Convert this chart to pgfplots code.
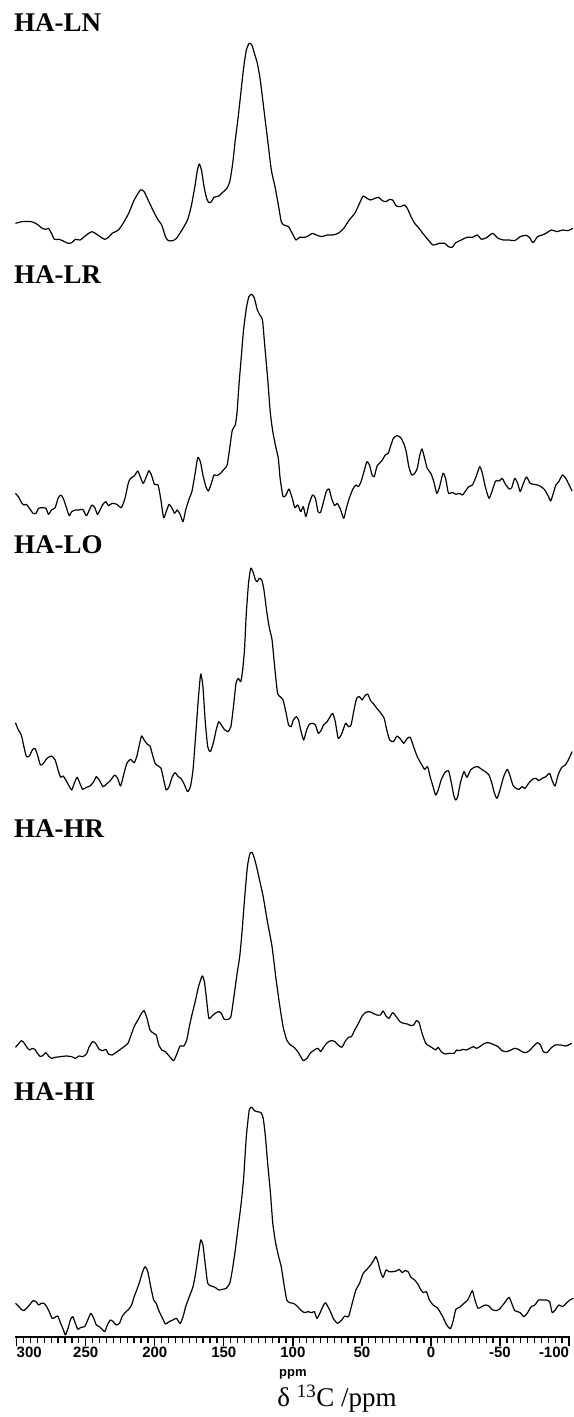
\documentclass[border=0pt]{standalone}
\usepackage{fontspec}
\setmainfont{Liberation Serif}
\setsansfont{Liberation Sans}
\usepackage{pgfplots}
\pgfplotsset{compat=1.18}
\begin{document}
\begin{tikzpicture}
\begin{axis}[
  x=1.3808pt, y=1pt,
  x dir=reverse,
  xmin=-100.5, xmax=301,
  ymin=80, ymax=1417,
  clip=false,
  axis x line=bottom, axis y line=none,
  x axis line style={-, line width=2pt},
  xtick={-100,-50,0,50,100,150,200,250,300},
  xticklabels={\makebox[0pt][r]{-100},-50,0,50,100,150,200,250,\makebox[0pt][l]{300}},
  minor x tick num=9,
  tick align=outside,
  major tick length=9pt, minor tick length=6pt,
  every tick/.style={black, line width=1.3pt},
  xticklabel style={font=\fontsize{15}{15}\selectfont\bfseries\sffamily, inner sep=1pt},
  x filter/.expression={312.1-0.26625*x},
  every axis plot/.append style={black, line width=1.2pt, line join=round, mark=none, smooth, tension=0.35},
]
% HA-LN
\addplot[y filter/.expression={1417-y/3}] coordinates {
(42,670)(60,665)(85,665)(100,672)(115,685)(125,688)(132,685)(140,700)(148,718)(160,718)(170,722)(185,730)(195,728)(205,718)(218,720)(235,705)(250,695)(262,702)(275,712)(285,718)(295,712)(305,700)(322,690)(335,670)(350,640)(365,600)(382,570)(392,575)(405,605)(418,635)(430,660)(440,675)(450,710)(458,722)(470,722)(480,715)(495,690)(510,660)(520,620)(530,560)(537,510)(542,492)(548,510)(555,560)(562,595)(568,608)(575,605)(582,592)(595,588)(605,578)(617,565)(625,545)(633,490)(640,420)(648,350)(655,280)(662,210)(670,150)(678,130)(685,135)(692,160)(700,190)(708,240)(718,330)(728,420)(738,510)(748,560)(758,620)(765,665)(772,675)(785,680)(795,700)(805,720)(815,712)(828,712)(838,708)(850,700)(860,705)(875,710)(890,705)(905,705)(920,700)(935,685)(950,660)(965,640)(978,610)(988,588)(998,595)(1008,600)(1020,595)(1030,592)(1040,602)(1050,605)(1060,598)(1068,600)(1078,618)(1090,620)(1100,615)(1108,625)(1118,650)(1128,670)(1140,685)(1150,700)(1165,720)(1178,735)(1195,730)(1210,730)(1220,740)(1230,742)(1240,728)(1255,720)(1270,712)(1285,712)(1298,705)(1310,718)(1325,712)(1340,700)(1355,715)(1370,720)(1385,720)(1400,722)(1415,710)(1430,706)(1440,712)(1450,728)(1462,710)(1475,705)(1485,700)(1500,690)(1515,695)(1530,690)(1545,692)(1558,685)
};
% HA-LR
\addplot[y filter/.expression={1417-y/3-265}] coordinates {
(42,685)(50,695)(58,712)(65,720)(72,718)(80,730)(90,745)(98,745)(105,730)(115,728)(125,730)(132,748)(140,735)(150,728)(158,700)(165,690)(172,700)(180,725)(188,752)(195,740)(205,735)(215,735)(225,733)(235,752)(243,735)(250,720)(258,728)(265,748)(272,735)(280,718)(288,710)(295,722)(305,715)(318,718)(330,728)(340,700)(350,650)(358,638)(366,632)(375,618)(383,640)(390,655)(398,635)(405,617)(412,630)(420,658)(430,660)(437,700)(445,758)(452,740)(460,718)(468,730)(475,745)(482,735)(490,748)(498,770)(505,735)(515,700)(522,680)(530,630)(538,578)(545,590)(552,630)(560,665)(567,678)(575,655)(582,630)(590,632)(600,625)(610,612)(618,600)(626,540)(632,495)(640,480)(645,440)(650,360)(656,280)(662,200)(670,130)(677,95)(685,88)(692,100)(700,135)(708,152)(714,165)(720,240)(728,340)(735,440)(742,500)(750,545)(757,580)(762,640)(770,695)(778,690)(786,672)(795,700)(802,728)(810,720)(818,740)(825,725)(832,755)(840,720)(850,690)(858,700)(865,740)(872,742)(880,710)(888,678)(895,672)(902,700)(910,722)(917,715)(925,730)(935,760)(942,730)(950,700)(960,672)(968,660)(975,665)(982,650)(990,620)(998,590)(1005,600)(1012,630)(1018,635)(1025,605)(1032,595)(1040,585)(1048,570)(1056,565)(1062,545)(1070,520)(1080,512)(1090,518)(1098,535)(1105,560)(1112,605)(1120,630)(1128,625)(1135,610)(1142,570)(1148,552)(1155,580)(1162,610)(1172,625)(1180,650)(1188,685)(1195,668)(1205,625)(1212,640)(1220,685)(1230,682)(1240,688)(1250,685)(1258,690)(1265,680)(1275,665)(1285,660)(1295,635)(1305,605)(1312,625)(1320,665)(1330,700)(1338,680)(1348,648)(1358,648)(1366,640)(1375,658)(1385,672)(1392,668)(1400,640)(1408,655)(1415,680)(1422,660)(1432,636)(1442,655)(1452,658)(1462,660)(1472,665)(1482,675)(1492,695)(1498,708)(1505,685)(1512,660)(1520,650)(1530,630)(1540,642)(1548,660)(1556,678)
};
% HA-LO
\addplot[y filter/.expression={1417-y/3-530}] coordinates {
(42,578)(50,600)(58,615)(65,650)(72,680)(80,678)(88,660)(95,655)(102,675)(110,705)(118,700)(128,685)(140,678)(150,690)(158,720)(165,742)(172,738)(180,752)(188,768)(195,780)(202,760)(210,742)(218,762)(225,778)(235,772)(245,768)(255,755)(262,740)(270,750)(280,770)(290,762)(300,752)(312,735)(320,745)(328,768)(335,740)(345,700)(355,688)(365,698)(372,680)(378,650)(385,618)(392,630)(400,642)(408,648)(415,675)(422,700)(430,708)(438,715)(445,748)(452,780)(460,770)(468,742)(476,728)(485,740)(492,745)(500,760)(510,785)(518,770)(525,720)(532,620)(540,500)(546,432)(552,470)(558,570)(565,650)(572,665)(580,640)(588,600)(595,575)(602,585)(610,598)(620,605)(628,590)(635,530)(642,460)(648,445)(655,455)(660,420)(665,360)(670,250)(676,160)(682,115)(688,125)(695,150)(700,155)(705,145)(712,150)(718,180)(725,240)(732,290)(740,330)(748,420)(755,490)(762,500)(770,510)(778,548)(785,585)(792,590)(798,570)(806,560)(812,570)(818,600)(826,630)(834,600)(842,582)(850,580)(858,585)(866,610)(874,600)(880,585)(890,575)(898,560)(905,550)(912,575)(920,625)(930,610)(940,580)(948,590)(955,585)(962,545)(970,505)(978,500)(985,510)(992,498)(1000,492)(1008,512)(1015,520)(1025,535)(1035,548)(1045,565)(1052,600)(1060,630)(1070,635)(1080,618)(1090,628)(1098,640)(1108,625)(1116,622)(1125,650)(1135,680)(1145,700)(1155,718)(1163,710)(1170,740)(1178,770)(1185,795)(1192,780)(1200,750)(1210,728)(1220,722)(1228,760)(1235,800)(1240,810)(1245,800)(1252,760)(1262,725)(1270,742)(1280,720)(1290,712)(1300,710)(1310,718)(1320,725)(1330,735)(1338,760)(1345,790)(1352,805)(1360,780)(1370,740)(1380,718)(1388,740)(1395,765)(1403,775)(1412,778)(1420,770)(1428,775)(1438,760)(1448,748)(1458,745)(1465,752)(1475,745)(1485,740)(1495,730)(1502,752)(1510,768)(1518,735)(1528,712)(1538,705)(1548,685)(1556,665)
};
% HA-HR
\addplot[y filter/.expression={1417-y/3-800}] coordinates {
(42,742)(50,732)(58,722)(65,728)(72,740)(80,750)(88,745)(95,748)(102,760)(110,770)(118,765)(125,758)(132,768)(140,775)(150,772)(165,770)(180,768)(195,770)(205,775)(215,768)(225,770)(235,762)(243,740)(252,725)(260,730)(270,748)(280,752)(288,748)(295,762)(305,765)(315,758)(325,750)(335,742)(348,730)(355,710)(365,680)(375,660)(385,640)(392,632)(400,655)(408,690)(418,700)(425,705)(432,735)(440,750)(450,755)(460,768)(472,782)(480,765)(490,738)(500,738)(508,720)(515,680)(522,645)(532,600)(540,560)(550,528)(556,545)(562,600)(568,655)(575,650)(585,640)(595,635)(602,640)(610,658)(620,658)(628,650)(635,600)(640,560)(645,520)(652,470)(658,400)(665,300)(673,200)(680,160)(686,158)(692,175)(700,210)(708,250)(716,290)(722,330)(730,380)(740,440)(750,530)(760,610)(770,680)(780,720)(790,735)(800,742)(810,755)(818,770)(825,782)(835,775)(845,758)(858,748)(865,745)(872,755)(880,742)(890,728)(900,722)(910,724)(920,735)(930,742)(940,722)(948,712)(956,710)(965,690)(975,670)(985,648)(995,637)(1005,635)(1015,640)(1025,645)(1035,645)(1042,633)(1050,648)(1058,655)(1068,638)(1078,650)(1088,665)(1098,670)(1108,672)(1118,677)(1125,675)(1133,662)(1140,668)(1148,700)(1158,730)(1168,738)(1178,745)(1185,750)(1192,742)(1200,755)(1210,762)(1222,760)(1235,760)(1242,750)(1250,752)(1260,748)(1268,750)(1278,745)(1288,740)(1296,745)(1305,740)(1315,732)(1325,728)(1335,730)(1345,735)(1355,740)(1365,752)(1378,755)(1390,750)(1400,745)(1410,748)(1420,755)(1430,758)(1440,752)(1450,740)(1462,728)(1470,735)(1478,755)(1488,758)(1498,745)(1510,735)(1525,735)(1540,738)(1555,730)
};
% HA-HI
\addplot[y filter/.expression={1417-y/3-1070}] coordinates {
(42,700)(50,708)(58,718)(65,722)(72,715)(80,705)(90,692)(98,695)(105,705)(112,700)(120,700)(128,712)(135,728)(142,745)(150,742)(157,738)(165,760)(172,778)(178,795)(185,775)(192,748)(198,740)(205,760)(212,778)(220,772)(230,770)(238,752)(247,730)(255,745)(262,765)(270,770)(278,778)(285,785)(292,765)(300,750)(308,755)(316,765)(325,760)(332,740)(340,728)(350,718)(358,705)(365,680)(372,660)(380,635)(388,605)(395,590)(402,605)(410,650)(418,690)(425,700)(432,722)(440,740)(450,762)(460,755)(470,750)(480,745)(490,760)(498,740)(505,710)(515,680)(525,650)(532,610)(540,550)(546,510)(552,525)(558,580)(565,640)(575,648)(585,652)(595,660)(605,658)(615,655)(625,640)(632,600)(640,540)(648,470)(656,400)(663,320)(670,200)(678,120)(685,112)(692,122)(700,125)(710,128)(716,145)(722,200)(728,280)(735,360)(742,460)(750,520)(758,560)(765,590)(772,640)(780,690)(788,698)(798,700)(808,708)(818,720)(828,728)(838,725)(848,728)(855,725)(862,745)(870,730)(878,710)(885,698)(892,710)(900,728)(908,748)(918,760)(928,752)(938,738)(948,740)(958,700)(968,660)(978,640)(988,610)(998,598)(1008,585)(1016,572)(1022,560)(1028,575)(1035,605)(1042,622)(1050,600)(1058,605)(1068,605)(1078,603)(1086,598)(1094,608)(1102,602)(1110,605)(1118,622)(1128,630)(1138,645)(1145,660)(1152,668)(1160,665)(1168,690)(1178,705)(1188,712)(1195,722)(1205,742)(1215,765)(1225,776)(1232,755)(1240,718)(1250,712)(1262,700)(1272,690)(1280,672)(1285,662)(1292,690)(1300,715)(1310,710)(1320,705)(1330,708)(1338,718)(1348,722)(1358,718)(1368,705)(1378,690)(1385,682)(1392,700)(1400,722)(1408,725)(1415,728)(1425,740)(1435,728)(1445,710)(1455,705)(1465,690)(1475,690)(1485,690)(1495,695)(1502,728)(1510,720)(1520,705)(1530,710)(1540,700)(1550,690)(1560,685)
};
\begin{scope}[every node/.style={inner sep=0pt, anchor=base west, font=\fontsize{27}{27}\selectfont\bfseries}]
\node at (axis cs:302,1385) {HA-LN};
\node at (axis cs:302,1133) {HA-LR};
\node at (axis cs:302,863) {HA-LO};
\node at (axis cs:302,579) {HA-HR};
\node at (axis cs:302,316) {HA-HI};
\end{scope}
\node[inner sep=0pt, font=\fontsize{13}{13}\selectfont\bfseries\sffamily] at (axis cs:100,43) {ppm};
\node[inner sep=0pt, font=\fontsize{27}{27}\selectfont] at (axis cs:68,18) {δ \textsuperscript{13}C /ppm};
\coordinate (BL) at (axis cs:312.1,0);
\coordinate (TR) at (axis cs:-102.9,1417);
\end{axis}
\pgfresetboundingbox
\useasboundingbox (BL) rectangle (TR);
\end{tikzpicture}
\end{document}
